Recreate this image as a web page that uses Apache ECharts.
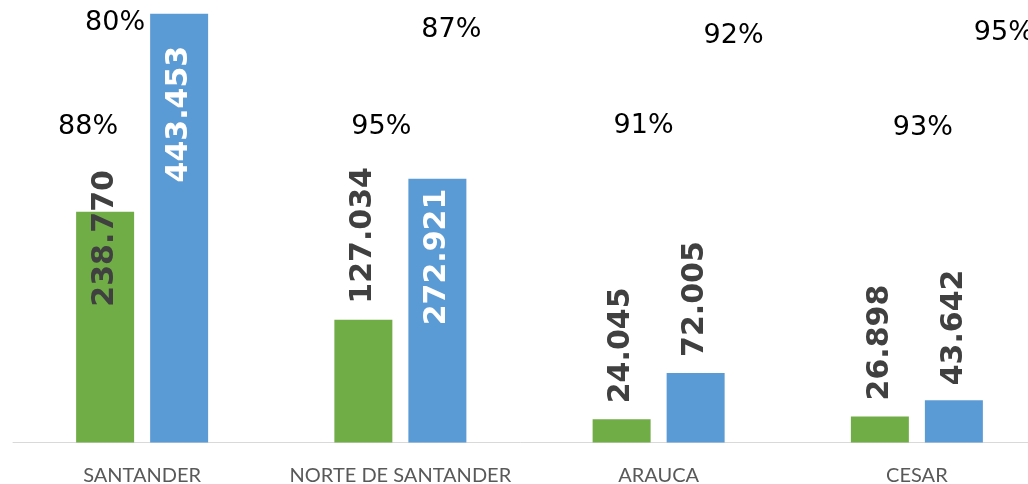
<!DOCTYPE html>
<html>
<head>
<meta charset="utf-8">
<script src="https://cdn.jsdelivr.net/npm/echarts@6/dist/echarts.min.js"></script>
<style>
html,body{margin:0;padding:0;background:#fff;}
#chart{width:1028px;height:484px;}
</style>
</head>
<body>
<div id="chart"></div>
<script>
// ---- data ----
const categories = ['SANTANDER', 'NORTE DE SANTANDER', 'ARAUCA', 'CESAR'];
const greenValues = [238770, 127034, 24045, 26898];
const blueValues = [443453, 272921, 72005, 43642];
const pctUpper = [80, 87, 92, 95];
const pctLower = [88, 95, 91, 93];

// ---- styles ----
const GREEN = '#70AD47';
const BLUE = '#5B9BD5';
const DARK = '#404040';
const greenLabelStyle = [
  { position: 'insideTop', distance: 95, align: 'left', color: DARK },
  { position: 'top', distance: 16, align: 'left', color: DARK },
  { position: 'top', distance: 16, align: 'left', color: DARK },
  { position: 'top', distance: 16, align: 'left', color: DARK }
];
const blueLabelStyle = [
  { position: 'insideTop', distance: 32, align: 'right', color: '#ffffff' },
  { position: 'insideTop', distance: 10, align: 'right', color: '#ffffff' },
  { position: 'top', distance: 16, align: 'left', color: DARK },
  { position: 'top', distance: 15, align: 'left', color: DARK }
];
// free-floating percentage annotations: horizontal offset from category centre, vertical centre
const upperDx = [-27, 51, 75, 87];
const upperY = [23, 30, 36, 33];
const lowerDx = [-54, -19, -15, 6];
const lowerY = [127, 127, 126, 128];

function fmt(v) {
  return String(v).replace(/\B(?=(\d{3})+(?!\d))/g, '.');
}

function buildSeriesData(values, styles) {
  return values.map((v, i) => ({
    value: v,
    label: Object.assign({
      show: true,
      rotate: 90,
      verticalAlign: 'middle',
      fontFamily: 'DejaVu Sans',
      fontWeight: 'bold',
      fontSize: 30,
      formatter: (p) => fmt(p.value)
    }, styles[i])
  }));
}

const chart = echarts.init(document.getElementById('chart'), null, { renderer: 'canvas' });

const option = {
  animation: false,
  backgroundColor: '#ffffff',
  grid: { left: 13, right: -18, top: 7.5, bottom: 41.5, containLabel: false, outerBoundsMode: 'none' },
  xAxis: {
    type: 'category',
    data: categories,
    axisTick: { show: false },
    axisLine: { show: true, lineStyle: { color: '#D9D9D9', width: 1 } },
    axisLabel: {
      color: '#595959',
      fontFamily: 'Lato',
      fontSize: 20,
      margin: 23,
      interval: 0
    }
  },
  yAxis: {
    type: 'value',
    min: 0,
    max: 450000,
    show: false,
    splitLine: { show: false }
  },
  series: [
    {
      type: 'bar',
      name: 'green',
      data: buildSeriesData(greenValues, greenLabelStyle),
      barWidth: 58,
      barGap: '27.6%',
      itemStyle: { color: GREEN }
    },
    {
      type: 'bar',
      name: 'blue',
      data: buildSeriesData(blueValues, blueLabelStyle),
      barWidth: 58,
      itemStyle: { color: BLUE }
    }
  ]
};

chart.setOption(option);

function pctText(val, i, dx, yc) {
  const cx = chart.convertToPixel({ xAxisIndex: 0 }, categories[i]);
  return {
    type: 'text',
    x: cx + dx,
    y: yc,
    style: {
      text: val + '%',
      fontFamily: 'DejaVu Sans',
      fontSize: 27,
      fill: '#000000',
      align: 'center',
      verticalAlign: 'middle'
    }
  };
}

const graphics = [];
pctUpper.forEach((v, i) => graphics.push(pctText(v, i, upperDx[i], upperY[i])));
pctLower.forEach((v, i) => graphics.push(pctText(v, i, lowerDx[i], lowerY[i])));
chart.setOption({ graphic: graphics });
</script>
</body>
</html>
